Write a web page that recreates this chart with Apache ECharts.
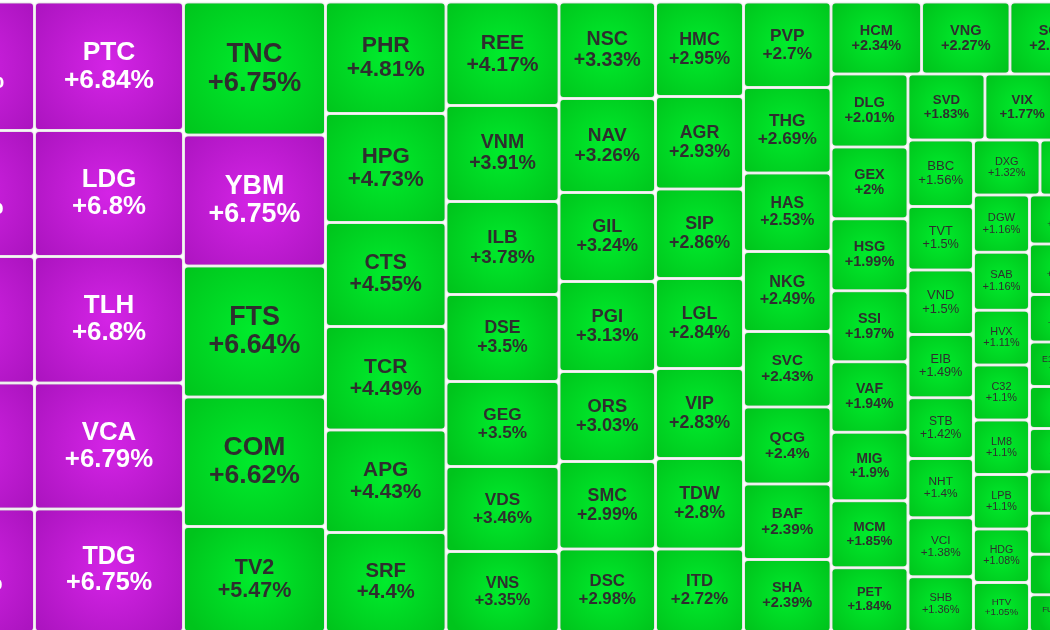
<!DOCTYPE html>
<html>
<head>
    <meta charset="utf-8">
    <title>heatmap</title>
    <script src="https://cdn.jsdelivr.net/npm/echarts@6/dist/echarts.min.js"></script>
    <style>
        html, body { margin: 0; padding: 0; background: #fff; }
        #main { width: 1050px; height: 630px; }
    </style>
</head>
<body>
<div id="main"></div>
<script>

// tickers in layout order (first column is cut off at the left edge, last ones at the right edge)
var tickers = [
    'QBS', 'HAR', 'TTF', 'DXS', 'NVT',
    'PTC', 'LDG', 'TLH', 'VCA', 'TDG',
    'TNC', 'YBM', 'FTS', 'COM', 'TV2',
    'PHR', 'HPG', 'CTS', 'TCR', 'APG', 'SRF',
    'REE', 'VNM', 'ILB', 'DSE', 'GEG', 'VDS', 'VNS',
    'NSC', 'NAV', 'GIL', 'PGI', 'ORS', 'SMC', 'DSC',
    'HMC', 'AGR', 'SIP', 'LGL', 'VIP', 'TDW', 'ITD',
    'PVP', 'THG', 'HAS', 'NKG', 'SVC', 'QCG', 'BAF', 'SHA',
    'HCM', 'VNG', 'SCR',
    'DLG', 'GEX', 'HSG', 'SSI', 'VAF', 'MIG', 'MCM', 'PET',
    'SVD', 'VIX', 'VCB',
    'BBC', 'TVT', 'VND', 'EIB', 'STB', 'NHT', 'VCI', 'SHB',
    'DXG', 'KBC',
    'DGW', 'SAB', 'HVX', 'C32', 'LM8', 'LPB', 'HDG', 'HTV',
    'IJC', 'BMP', 'IDI', 'E1VFVN30', 'TCH', 'PNJ', 'SZC', 'TLG', 'EVF', 'FUEVFVND'
];

// % change
var changes = [
    6.97, 6.93, 6.9, 6.9, 6.88,
    6.84, 6.8, 6.8, 6.79, 6.75,
    6.75, 6.75, 6.64, 6.62, 5.47,
    4.81, 4.73, 4.55, 4.49, 4.43, 4.4,
    4.17, 3.91, 3.78, 3.5, 3.5, 3.46, 3.35,
    3.33, 3.26, 3.24, 3.13, 3.03, 2.99, 2.98,
    2.95, 2.93, 2.86, 2.84, 2.83, 2.8, 2.72,
    2.7, 2.69, 2.53, 2.49, 2.43, 2.4, 2.39, 2.39,
    2.34, 2.27, 2.22,
    2.01, 2, 1.99, 1.97, 1.94, 1.9, 1.85, 1.84,
    1.83, 1.77, 1.6,
    1.56, 1.5, 1.5, 1.49, 1.42, 1.4, 1.38, 1.36,
    1.32, 1.2,
    1.16, 1.16, 1.11, 1.1, 1.1, 1.1, 1.08, 1.05,
    1.03, 0.98, 0.97, 0.95, 0.94, 0.93, 0.92, 0.9, 0.89, 0.87
];

// tile weight (read from tile areas)
var sizes = [
    193.4, 189.6, 190.4, 189.6, 185.1,
    191.5, 187.7, 188.5, 187.7, 183.3,
    188.9, 186.0, 186.0, 183.9, 149.8,
    134.4, 131.3, 125.3, 124.7, 123.5, 119.9,
    117.0, 108.5, 105.1, 98.3, 96.1, 96.1, 91.0,
    93.1, 90.7, 85.9, 86.9, 86.9, 84.4, 80.1,
    83.2, 81.4, 78.8, 79.2, 79.2, 79.6, 73.0,
    74.8, 74.8, 68.7, 70.0, 66.1, 67.4, 66.1, 63.4,
    65.2, 63.7, 63.4,
    56.1, 55.2, 55.4, 54.7, 54.1, 52.7, 51.5, 49.5,
    50.8, 49.2, 25.4,
    43.6, 41.6, 42.1, 41.5, 39.7, 38.9, 38.6, 36.2,
    36.6, 31.9,
    32.1, 32.5, 30.6, 30.8, 30.6, 30.5, 30.0, 27.7,
    33.6, 34.6, 32.5, 30.6, 28.8, 29.5, 28.5, 28.1, 27.7, 25.6
];

// stocks at ceiling price (purple)
var ceiling = ['QBS', 'HAR', 'TTF', 'DXS', 'NVT', 'PTC', 'LDG', 'TLH', 'VCA', 'TDG', 'YBM'];

// grouping: 'h' = side by side, 'v' = stacked, number = that many tiles in a run
var groups = ['h', ['v', 5], ['v', 5], ['v', 5], ['v', 6], ['v', 7], ['v', 7], ['v', 7], ['v', 8],
    ['v', ['h', 3],
        ['h', ['v', 8],
            ['v', ['h', 3],
                ['h', ['v', 8],
                    ['v', ['h', 2],
                        ['h', ['v', 8], ['v', 10]]]]]]]];

// the picture only shows part of the whole map: visible window in map units
var viewX = [116 / 1214, 1166 / 1214];
var viewY = [0, 628 / 630];

var cursor = 0;
function build(node) {
    var items = [];
    for (var i = 1; i < node.length; i++) {
        if (typeof node[i] === 'number') {
            for (var k = 0; k < node[i]; k++) {
                items.push({ tile: cursor, size: sizes[cursor] });
                cursor++;
            }
        } else {
            items.push(build(node[i]));
        }
    }
    var total = 0;
    items.forEach(function (it) { total += it.size; });
    return { dir: node[0], items: items, size: total };
}

function place(node, x0, y0, x1, y1, out) {
    var horiz = node.dir === 'h';
    var pos = horiz ? x0 : y0;
    var len = horiz ? x1 - x0 : y1 - y0;
    node.items.forEach(function (it) {
        var d = len * it.size / node.size;
        var r = horiz ? [pos, y0, pos + d, y1] : [x0, pos, x1, pos + d];
        pos += d;
        if (it.items) place(it, r[0], r[1], r[2], r[3], out);
        else out.push([r[0], r[1], r[2], r[3], it.tile]);
    });
}

var tree = build(groups);
var cells = [];
place(tree, 0, 0, 1, 1, cells);

function fmt(v) { return '+' + v + '%'; }

function renderItem(params, api) {
    var p0 = api.coord([api.value(0), api.value(1)]);
    var p1 = api.coord([api.value(2), api.value(3)]);
    var i = api.value(4);
    var g = 1.5;
    var x = p0[0] + g, y = p0[1] + g;
    var w = p1[0] - p0[0] - 2 * g, h = p1[1] - p0[1] - 2 * g;
    var fs = Math.max(8, Math.min(w, h) * 0.21);
    var bold = Math.sqrt(w * h) >= 66;
    var up = ceiling.indexOf(tickers[i]) >= 0;
    var fill = up
        ? new echarts.graphic.RadialGradient(0.5, 0.5, 0.75, [
            { offset: 0, color: '#d424e6' }, { offset: 1, color: '#ac14c0' }])
        : new echarts.graphic.RadialGradient(0.5, 0.5, 0.75, [
            { offset: 0, color: '#00ec2c' }, { offset: 1, color: '#00c41c' }]);
    return {
        type: 'rect',
        shape: { x: x, y: y, width: w, height: h, r: 3 },
        style: { fill: fill, shadowBlur: 2, shadowColor: 'rgba(0,0,0,0.35)' },
        textContent: {
            style: {
                text: tickers[i] + '\n' + fmt(changes[i]),
                fill: up ? '#ffffff' : '#2e2e2e',
                fontSize: fs,
                fontWeight: bold ? 'bold' : 'normal',
                fontFamily: 'Arial, "Liberation Sans", sans-serif',
                lineHeight: Math.round(fs * 1.05),
                align: 'center',
                verticalAlign: 'middle'
            }
        },
        textConfig: { position: 'inside' }
    };
}

var option = {
    animation: false,
    grid: { left: 0, top: 2, width: 1050, height: 628 },
    xAxis: { type: 'value', min: viewX[0], max: viewX[1], show: false },
    yAxis: { type: 'value', min: viewY[0], max: viewY[1], inverse: true, show: false },
    series: [{
        type: 'custom',
        silent: true,
        clip: false,
        renderItem: renderItem,
        data: cells
    }]
};

var myChart = echarts.init(document.getElementById('main'));
myChart.setOption(option);

</script>
</body>
</html>
